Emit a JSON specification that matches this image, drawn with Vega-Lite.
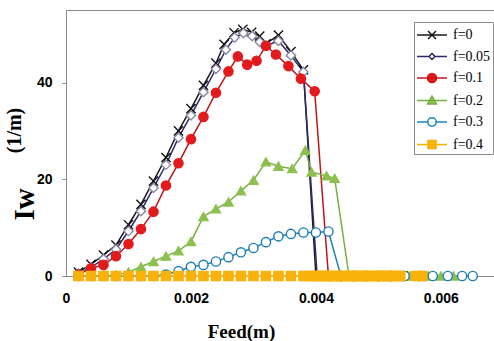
{
  "$schema": "https://vega.github.io/schema/vega-lite/v6.json",
  "width": 428,
  "height": 266,
  "autosize": {"type": "none"},
  "padding": {"left": 66, "top": 10, "right": 0, "bottom": 65},
  "background": "white",
  "config": {"view": {"stroke": "#8c8c8c", "strokeWidth": 1}},
  "data": {"values": [
    {"s":"f=0","x":0.0002,"y":0.8},{"s":"f=0","x":0.0004,"y":2.4},{"s":"f=0","x":0.0006,"y":4.3},{"s":"f=0","x":0.0008,"y":6.4},{"s":"f=0","x":0.001,"y":10.6},{"s":"f=0","x":0.0012,"y":14.8},{"s":"f=0","x":0.0014,"y":19.6},{"s":"f=0","x":0.0016,"y":24.5},{"s":"f=0","x":0.0018,"y":30.0},{"s":"f=0","x":0.002,"y":34.6},{"s":"f=0","x":0.0022,"y":39.4},{"s":"f=0","x":0.0024,"y":44.0},{"s":"f=0","x":0.00253,"y":47.9},{"s":"f=0","x":0.00269,"y":50.3},{"s":"f=0","x":0.00283,"y":51.0},{"s":"f=0","x":0.00297,"y":50.4},{"s":"f=0","x":0.0031,"y":49.6},{"s":"f=0","x":0.0032,"y":48.0},{"s":"f=0","x":0.0034,"y":49.8},{"s":"f=0","x":0.0036,"y":46.4},{"s":"f=0","x":0.0038,"y":42.6},
    {"s":"f=0","x":0.004,"y":0},{"s":"f=0","x":0.0042,"y":0},{"s":"f=0","x":0.0044,"y":0},{"s":"f=0","x":0.0046,"y":0},{"s":"f=0","x":0.0048,"y":0},{"s":"f=0","x":0.005,"y":0},{"s":"f=0","x":0.0052,"y":0},{"s":"f=0","x":0.0054,"y":0},
    {"s":"f=0.05","x":0.0002,"y":0.5},{"s":"f=0.05","x":0.0004,"y":1.8},{"s":"f=0.05","x":0.0006,"y":3.5},{"s":"f=0.05","x":0.0008,"y":5.5},{"s":"f=0.05","x":0.001,"y":9.3},{"s":"f=0.05","x":0.0012,"y":13.4},{"s":"f=0.05","x":0.0014,"y":18.2},{"s":"f=0.05","x":0.0016,"y":23.0},{"s":"f=0.05","x":0.0018,"y":28.6},{"s":"f=0.05","x":0.002,"y":33.2},{"s":"f=0.05","x":0.0022,"y":38.0},{"s":"f=0.05","x":0.0024,"y":42.8},{"s":"f=0.05","x":0.00256,"y":46.8},{"s":"f=0.05","x":0.0027,"y":49.3},{"s":"f=0.05","x":0.00284,"y":50.2},{"s":"f=0.05","x":0.00298,"y":49.6},{"s":"f=0.05","x":0.0031,"y":48.4},{"s":"f=0.05","x":0.0032,"y":47.6},{"s":"f=0.05","x":0.0034,"y":48.6},{"s":"f=0.05","x":0.0036,"y":45.6},{"s":"f=0.05","x":0.0038,"y":42.2},
    {"s":"f=0.05","x":0.00402,"y":0},{"s":"f=0.05","x":0.0042,"y":0},{"s":"f=0.05","x":0.0044,"y":0},{"s":"f=0.05","x":0.0046,"y":0},{"s":"f=0.05","x":0.0048,"y":0},{"s":"f=0.05","x":0.005,"y":0},{"s":"f=0.05","x":0.0052,"y":0},{"s":"f=0.05","x":0.0054,"y":0},
    {"s":"f=0.1","x":0.0002,"y":0.3},{"s":"f=0.1","x":0.0004,"y":1.6},{"s":"f=0.1","x":0.0006,"y":2.3},{"s":"f=0.1","x":0.0008,"y":4.1},{"s":"f=0.1","x":0.001,"y":6.6},{"s":"f=0.1","x":0.0012,"y":9.7},{"s":"f=0.1","x":0.0014,"y":13.3},{"s":"f=0.1","x":0.0016,"y":18.7},{"s":"f=0.1","x":0.0018,"y":23.3},{"s":"f=0.1","x":0.002,"y":28.3},{"s":"f=0.1","x":0.0022,"y":32.9},{"s":"f=0.1","x":0.0024,"y":37.9},{"s":"f=0.1","x":0.0026,"y":42.3},{"s":"f=0.1","x":0.00275,"y":45.4},{"s":"f=0.1","x":0.0029,"y":43.7},{"s":"f=0.1","x":0.00305,"y":44.5},{"s":"f=0.1","x":0.0032,"y":47.6},{"s":"f=0.1","x":0.00336,"y":45.8},{"s":"f=0.1","x":0.00356,"y":43.4},{"s":"f=0.1","x":0.00376,"y":40.8},{"s":"f=0.1","x":0.00398,"y":38.2},
    {"s":"f=0.1","x":0.0042,"y":0},{"s":"f=0.1","x":0.0044,"y":0},{"s":"f=0.1","x":0.0046,"y":0},{"s":"f=0.1","x":0.0048,"y":0},{"s":"f=0.1","x":0.005,"y":0},{"s":"f=0.1","x":0.0052,"y":0},{"s":"f=0.1","x":0.0054,"y":0},{"s":"f=0.1","x":0.00573,"y":0},
    {"s":"f=0.2","x":0.0002,"y":0},{"s":"f=0.2","x":0.0004,"y":0},{"s":"f=0.2","x":0.0006,"y":0},{"s":"f=0.2","x":0.0008,"y":0.2},{"s":"f=0.2","x":0.001,"y":0.8},{"s":"f=0.2","x":0.0012,"y":1.9},{"s":"f=0.2","x":0.0014,"y":3.0},{"s":"f=0.2","x":0.0016,"y":4.1},{"s":"f=0.2","x":0.0018,"y":5.2},{"s":"f=0.2","x":0.002,"y":7.1},{"s":"f=0.2","x":0.0022,"y":12.3},{"s":"f=0.2","x":0.0024,"y":13.9},{"s":"f=0.2","x":0.0026,"y":15.3},{"s":"f=0.2","x":0.0028,"y":17.6},{"s":"f=0.2","x":0.003,"y":19.8},{"s":"f=0.2","x":0.0032,"y":23.6},{"s":"f=0.2","x":0.0034,"y":22.7},{"s":"f=0.2","x":0.00362,"y":22.2},{"s":"f=0.2","x":0.00383,"y":26.0},{"s":"f=0.2","x":0.00393,"y":21.5},{"s":"f=0.2","x":0.00417,"y":20.7},{"s":"f=0.2","x":0.0043,"y":20.2},
    {"s":"f=0.2","x":0.00453,"y":0},{"s":"f=0.2","x":0.0047,"y":0},{"s":"f=0.2","x":0.0049,"y":0},{"s":"f=0.2","x":0.0051,"y":0},{"s":"f=0.2","x":0.0053,"y":0},{"s":"f=0.2","x":0.0055,"y":0},{"s":"f=0.2","x":0.0058,"y":0},{"s":"f=0.2","x":0.006,"y":0},{"s":"f=0.2","x":0.0062,"y":0},
    {"s":"f=0.3","x":0.0002,"y":0},{"s":"f=0.3","x":0.0004,"y":0},{"s":"f=0.3","x":0.0006,"y":0},{"s":"f=0.3","x":0.0008,"y":0},{"s":"f=0.3","x":0.001,"y":0},{"s":"f=0.3","x":0.0012,"y":0},{"s":"f=0.3","x":0.0014,"y":0},{"s":"f=0.3","x":0.0016,"y":0.3},{"s":"f=0.3","x":0.0018,"y":1.0},{"s":"f=0.3","x":0.002,"y":1.9},{"s":"f=0.3","x":0.0022,"y":2.3},{"s":"f=0.3","x":0.0024,"y":3.0},{"s":"f=0.3","x":0.0026,"y":3.9},{"s":"f=0.3","x":0.0028,"y":4.9},{"s":"f=0.3","x":0.003,"y":5.8},{"s":"f=0.3","x":0.0032,"y":7.0},{"s":"f=0.3","x":0.0034,"y":8.2},{"s":"f=0.3","x":0.0036,"y":8.7},{"s":"f=0.3","x":0.0038,"y":9.0},{"s":"f=0.3","x":0.004,"y":9.0},{"s":"f=0.3","x":0.0042,"y":9.2},
    {"s":"f=0.3","x":0.0044,"y":0},{"s":"f=0.3","x":0.0046,"y":0},{"s":"f=0.3","x":0.0048,"y":0},{"s":"f=0.3","x":0.005,"y":0},{"s":"f=0.3","x":0.0052,"y":0},{"s":"f=0.3","x":0.00542,"y":0},{"s":"f=0.3","x":0.00566,"y":0},{"s":"f=0.3","x":0.00587,"y":0},{"s":"f=0.3","x":0.00611,"y":0},{"s":"f=0.3","x":0.00634,"y":0},{"s":"f=0.3","x":0.00651,"y":0},
    {"s":"f=0.4","x":0.0002,"y":0},{"s":"f=0.4","x":0.0004,"y":0},{"s":"f=0.4","x":0.0006,"y":0},{"s":"f=0.4","x":0.0008,"y":0},{"s":"f=0.4","x":0.001,"y":0},{"s":"f=0.4","x":0.0012,"y":0},{"s":"f=0.4","x":0.0014,"y":0},{"s":"f=0.4","x":0.0016,"y":0},{"s":"f=0.4","x":0.0018,"y":0},{"s":"f=0.4","x":0.002,"y":0},{"s":"f=0.4","x":0.0022,"y":0},{"s":"f=0.4","x":0.0024,"y":0},{"s":"f=0.4","x":0.0026,"y":0},{"s":"f=0.4","x":0.0028,"y":0},{"s":"f=0.4","x":0.003,"y":0},{"s":"f=0.4","x":0.0032,"y":0},{"s":"f=0.4","x":0.0034,"y":0},{"s":"f=0.4","x":0.0036,"y":0},{"s":"f=0.4","x":0.0038,"y":0},
    {"s":"f=0.4","x":0.0039,"y":0},{"s":"f=0.4","x":0.00395,"y":0},{"s":"f=0.4","x":0.004,"y":0},{"s":"f=0.4","x":0.00405,"y":0},{"s":"f=0.4","x":0.0041,"y":0},{"s":"f=0.4","x":0.00415,"y":0},{"s":"f=0.4","x":0.0042,"y":0},{"s":"f=0.4","x":0.00425,"y":0},{"s":"f=0.4","x":0.0043,"y":0},{"s":"f=0.4","x":0.00435,"y":0},{"s":"f=0.4","x":0.0044,"y":0},{"s":"f=0.4","x":0.00445,"y":0},{"s":"f=0.4","x":0.0045,"y":0},{"s":"f=0.4","x":0.00455,"y":0},{"s":"f=0.4","x":0.0046,"y":0},{"s":"f=0.4","x":0.00465,"y":0},{"s":"f=0.4","x":0.0047,"y":0},{"s":"f=0.4","x":0.00475,"y":0},{"s":"f=0.4","x":0.0048,"y":0},{"s":"f=0.4","x":0.00485,"y":0},{"s":"f=0.4","x":0.0049,"y":0},{"s":"f=0.4","x":0.00495,"y":0},{"s":"f=0.4","x":0.005,"y":0},{"s":"f=0.4","x":0.00505,"y":0},{"s":"f=0.4","x":0.0051,"y":0},{"s":"f=0.4","x":0.00515,"y":0},{"s":"f=0.4","x":0.0052,"y":0},{"s":"f=0.4","x":0.00525,"y":0},{"s":"f=0.4","x":0.0053,"y":0},{"s":"f=0.4","x":0.00535,"y":0},{"s":"f=0.4","x":0.0056,"y":0},{"s":"f=0.4","x":0.0057,"y":0}
  ]},
  "layer": [
    {
      "mark": {"type": "line", "strokeWidth": 1.5},
      "encoding": {
        "x": {"field": "x", "type": "quantitative",
          "scale": {"domain": [0, 0.00685], "nice": false, "zero": false},
          "axis": {"values": [0, 0.002, 0.004, 0.006], "format": ".3~f", "grid": false, "ticks": false,
            "domainColor": "#8c8c8c", "labelFont": "Liberation Sans", "labelFontWeight": "bold", "labelFontSize": 14,
            "labelColor": "black", "labelPadding": 15, "labelFlush": false,
            "title": "Feed(m)", "titleFont": "Liberation Serif", "titleFontSize": 19, "titleFontWeight": "bold",
            "titleColor": "black", "titleX": 175, "titleY": 61, "titleBaseline": "alphabetic", "titleAlign": "center"}},
        "y": {"field": "y", "type": "quantitative",
          "scale": {"domain": [0, 55], "nice": false},
          "axis": {"orient": "left", "values": [0, 20, 40], "grid": false, "tickSize": 4, "tickColor": "#8c8c8c",
            "domainColor": "#8c8c8c", "labelFont": "Liberation Sans", "labelFontWeight": "bold", "labelFontSize": 14,
            "labelColor": "black", "labelPadding": 10,
            "title": "Iᴡ", "titleFont": "Liberation Serif", "titleFontSize": 29, "titleFontWeight": "bold",
            "titleColor": "black", "titleX": -42, "titleY": 194, "titleBaseline": "middle", "titleAlign": "center", "titleAngle": -90}},
        "color": {"field": "s", "type": "nominal",
          "scale": {"domain": ["f=0.4", "f=0.3", "f=0.2", "f=0.1", "f=0.05", "f=0"],
                    "range": ["#f5b000", "#1b82b8", "#78b040", "#c0141a", "#2e2a6b", "#1a1a1a"]},
          "legend": null}
      }
    },
    {
      "mark": {"type": "point", "filled": true, "size": 85, "strokeWidth": 1.4, "opacity": 1},
      "encoding": {
        "x": {"field": "x", "type": "quantitative"},
        "y": {"field": "y", "type": "quantitative", "scale": {"domain": [0, 55], "nice": false}, "axis": null},
        "shape": {"field": "s", "type": "nominal",
          "scale": {"domain": ["f=0.4", "f=0.3", "f=0.2", "f=0.1", "f=0.05", "f=0"],
                    "range": ["square", "circle", "triangle-up", "circle", "diamond", "M-1,-1L1,1M-1,1L1,-1"]},
          "legend": null},
        "stroke": {"field": "s", "type": "nominal",
          "scale": {"domain": ["f=0.4", "f=0.3", "f=0.2", "f=0.1", "f=0.05", "f=0"],
                    "range": ["#f9b20b", "#1a7db5", "#8cc04f", "#e31a1c", "#8a8aa6", "#111111"]},
          "legend": null},
        "fill": {"field": "s", "type": "nominal",
          "scale": {"domain": ["f=0.4", "f=0.3", "f=0.2", "f=0.1", "f=0.05", "f=0"],
                    "range": ["#f9b20b", "#ffffff", "#8cc04f", "#e31a1c", "#ffffff", "#111111"]},
          "legend": null}
      }
    },
    {
      "mark": {"type": "point", "filled": true, "size": 10, "opacity": 0},
      "encoding": {
        "x": {"field": "x", "type": "quantitative"},
        "y": {"field": "y", "type": "quantitative",
          "scale": {"domain": [0, 55], "nice": false},
          "axis": {"orient": "left", "domain": false, "labels": false, "ticks": false, "grid": false,
            "title": "(1/m)", "titleFont": "Liberation Serif", "titleFontSize": 20, "titleFontWeight": "bold",
            "titleColor": "black", "titleX": -52, "titleY": 120, "titleBaseline": "middle", "titleAlign": "center", "titleAngle": -90}},
        "shape": {"field": "s", "type": "nominal",
          "scale": {"domain": ["f=0", "f=0.05", "f=0.1", "f=0.2", "f=0.3", "f=0.4"],
                    "range": [
                      "M-1.5,0H1.5M-0.4,-0.4L0.4,0.4M-0.4,0.4L0.4,-0.4",
                      "M-1.5,0H-0.3M0.3,0H1.5M0,-0.3L0.3,0L0,0.3L-0.3,0Z",
                      "M-1.5,0H1.5M0.45,0A0.45,0.45,0,1,1,-0.45,0A0.45,0.45,0,1,1,0.45,0Z",
                      "M-1.5,0H1.5M0,-0.45L0.45,0.35L-0.45,0.35Z",
                      "M-1.5,0H-0.42M0.42,0H1.5M0.42,0A0.42,0.42,0,1,1,-0.42,0A0.42,0.42,0,1,1,0.42,0Z",
                      "M-1.5,0H1.5M-0.4,-0.4H0.4V0.4H-0.4Z"]},
          "legend": {"orient": "none", "legendX": 348, "legendY": 12, "title": null,
            "padding": 2, "strokeColor": "#8c8c8c", "fillColor": "white",
            "symbolSize": 400, "symbolStrokeWidth": 1.5, "symbolOpacity": 1, "symbolOffset": 5, "labelOffset": 10,
            "labelFont": "Liberation Serif", "labelFontSize": 14, "labelColor": "black", "rowPadding": 3.5}},
        "stroke": {"field": "s", "type": "nominal",
          "scale": {"domain": ["f=0", "f=0.05", "f=0.1", "f=0.2", "f=0.3", "f=0.4"],
                    "range": ["#1a1a1a", "#2e2a6b", "#d01018", "#78b040", "#1b82b8", "#f5b000"]},
          "legend": {"orient": "none", "legendX": 348, "legendY": 12, "title": null,
            "padding": 2, "strokeColor": "#8c8c8c", "fillColor": "white",
            "symbolSize": 400, "symbolStrokeWidth": 1.5, "symbolOpacity": 1, "symbolOffset": 5, "labelOffset": 10,
            "labelFont": "Liberation Serif", "labelFontSize": 14, "labelColor": "black", "rowPadding": 3.5}},
        "fill": {"field": "s", "type": "nominal",
          "scale": {"domain": ["f=0", "f=0.05", "f=0.1", "f=0.2", "f=0.3", "f=0.4"],
                    "range": ["transparent", "#ffffff", "#e31a1c", "#8cc04f", "#ffffff", "#f9b20b"]},
          "legend": {"orient": "none", "legendX": 348, "legendY": 12, "title": null,
            "padding": 2, "strokeColor": "#8c8c8c", "fillColor": "white",
            "symbolSize": 400, "symbolStrokeWidth": 1.5, "symbolOpacity": 1, "symbolOffset": 5, "labelOffset": 10,
            "labelFont": "Liberation Serif", "labelFontSize": 14, "labelColor": "black", "rowPadding": 3.5}}
      }
    }
  ],
  "resolve": {"scale": {"y": "independent", "shape": "independent", "stroke": "independent", "fill": "independent"}, "axis": {"y": "independent"}}
}
